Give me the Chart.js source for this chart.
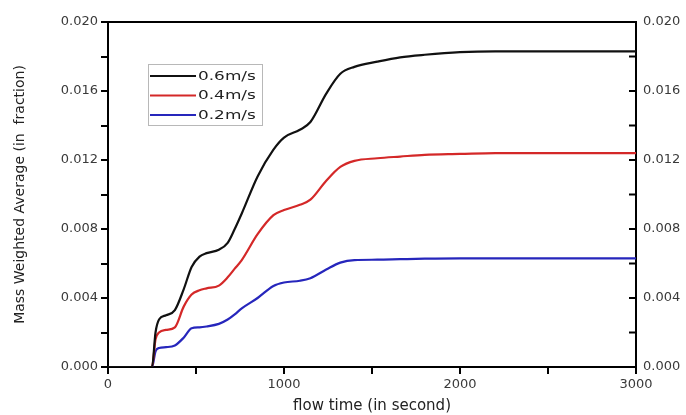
<!DOCTYPE html>
<html>
<head>
<meta charset="utf-8">
<script src="https://cdn.jsdelivr.net/npm/chart.js@4.4.1/dist/chart.umd.min.js"></script>
<style>
  html, body { margin: 0; padding: 0; background: #fff; }
  #wrap { width: 686px; height: 415px; position: relative; }
</style>
</head>
<body>
<div id="wrap"><canvas id="massChart"></canvas></div>
<script>
// data (flow time in s, mass weighted average as fraction)
const flowTime = [0, 250, 270, 290, 330, 380, 430, 475, 520, 560, 630, 680, 720, 760, 850, 940, 1000, 1090, 1150, 1240, 1320, 1400, 1530, 1660, 1800, 2000, 2200, 2500, 3000];
const speed06 = [0, 0, 0.0020, 0.00275, 0.0030, 0.0033, 0.0045, 0.0058, 0.0064, 0.0066, 0.0068, 0.0072, 0.0080, 0.0089, 0.01105, 0.0126, 0.0133, 0.01375, 0.0142, 0.01585, 0.0170, 0.0174, 0.0177, 0.01795, 0.0181, 0.01825, 0.0183, 0.0183, 0.0183];
const speed04 = [0, 0, 0.0016, 0.0020, 0.00215, 0.0023, 0.0035, 0.0042, 0.00445, 0.00456, 0.00472, 0.0052, 0.0057, 0.0062, 0.0077, 0.0088, 0.0091, 0.0094, 0.0097, 0.0108, 0.0116, 0.01195, 0.0121, 0.0122, 0.0123, 0.01235, 0.0124, 0.0124, 0.0124];
const speed02 = [0, 0, 0.0009, 0.0011, 0.00115, 0.00125, 0.0017, 0.00225, 0.0023, 0.00235, 0.0025, 0.00275, 0.00305, 0.0034, 0.0040, 0.0047, 0.0049, 0.0050, 0.00515, 0.00565, 0.00605, 0.0062, 0.00622, 0.00625, 0.00628, 0.0063, 0.0063, 0.0063, 0.0063];
const seriesLabels = ['0.6m/s', '0.4m/s', '0.2m/s'];
const seriesColors = ['#111111', '#d42828', '#2626bc'];
const xTickLabels = [0, 1000, 2000, 3000];
const yTickLabels = [0, 0.004, 0.008, 0.012, 0.016, 0.020];

const FONT = 'DejaVu Sans';

function toPoints(vals) {
  return flowTime.map((t, i) => ({ x: t, y: vals[i] }));
}

function yLabel(v) {
  return yTickLabels.some(t => Math.abs(t - v) < 1e-9) ? v.toFixed(3) : '';
}

// top frame line + inward ticks on the right axis
const framePlugin = {
  id: 'frame',
  afterDraw(chart) {
    const ctx = chart.ctx;
    const a = chart.chartArea;
    const y2 = chart.scales.y2;
    ctx.save();
    ctx.strokeStyle = '#000';
    ctx.lineWidth = 2;
    ctx.beginPath();
    ctx.moveTo(a.left - 1, a.top);
    ctx.lineTo(a.right + 1, a.top);
    y2.ticks.forEach(t => {
      const py = y2.getPixelForValue(t.value);
      ctx.moveTo(a.right - 7, py);
      ctx.lineTo(a.right, py);
    });
    ctx.stroke();
    ctx.restore();
  }
};

// boxed legend inside the plot, text a bit stretched like the original
const legendPlugin = {
  id: 'boxLegend',
  afterDatasetsDraw(chart) {
    const ctx = chart.ctx;
    const a = chart.chartArea;
    const x0 = a.left + 40, y0 = a.top + 42;
    ctx.save();
    ctx.fillStyle = '#fff';
    ctx.fillRect(x0, y0, 114, 61);
    ctx.strokeStyle = '#b8b8b8';
    ctx.lineWidth = 1;
    ctx.strokeRect(x0 + 0.5, y0 + 0.5, 114, 61);
    chart.data.datasets.forEach((ds, i) => {
      const ly = y0 + 12 + i * 19.5;
      ctx.strokeStyle = ds.borderColor;
      ctx.lineWidth = 2.2;
      ctx.beginPath();
      ctx.moveTo(x0 + 2, ly);
      ctx.lineTo(x0 + 48, ly);
      ctx.stroke();
      ctx.save();
      ctx.translate(x0 + 50, ly);
      ctx.scale(1.3, 1);
      ctx.fillStyle = '#222';
      ctx.font = '13px "' + FONT + '"';
      ctx.textBaseline = 'middle';
      ctx.fillText(ds.label, 0, 0.5);
      ctx.restore();
    });
    ctx.restore();
  }
};

const ctx = document.getElementById('massChart').getContext('2d');
const massChart = new Chart(ctx, {
  type: 'line',
  data: {
    datasets: [speed06, speed04, speed02].map((vals, i) => ({
      label: seriesLabels[i],
      data: toPoints(vals),
      borderColor: seriesColors[i],
      borderWidth: 2.2,
      pointRadius: 0,
      fill: false,
      cubicInterpolationMode: 'monotone'
    }))
  },
  options: {
    responsive: true,
    maintainAspectRatio: false,
    devicePixelRatio: 1,
    animation: false,
    layout: { padding: { top: 22, left: 0, right: 0, bottom: 0 } },
    plugins: {
      legend: { display: false },
      tooltip: { enabled: false }
    },
    scales: {
      x: {
        type: 'linear',
        min: 0,
        max: 3000,
        afterFit(scale) { scale.height = 48; },
        ticks: {
          stepSize: 500,
          padding: 3,
          color: '#3a3a3a',
          font: { family: FONT, size: 13 },
          maxRotation: 0,
          autoSkip: false,
          callback: v => xTickLabels.includes(v) ? String(v) : ''
        },
        grid: { drawOnChartArea: false, drawTicks: true, tickLength: 7, color: '#000', lineWidth: 2 },
        border: { color: '#000', width: 2 },
        title: {
          display: true,
          text: 'flow time (in second)',
          color: '#222',
          font: { family: FONT, size: 15 },
          padding: { top: 0, bottom: 0 }
        }
      },
      y: {
        position: 'left',
        min: 0,
        max: 0.02,
        afterFit(scale) { scale.width = 108; },
        ticks: {
          stepSize: 0.002,
          padding: 3,
          color: '#3a3a3a',
          font: { family: FONT, size: 13 },
          autoSkip: false,
          callback: yLabel
        },
        grid: { drawOnChartArea: false, drawTicks: true, tickLength: 7, color: '#000', lineWidth: 2 },
        border: { color: '#000', width: 2 },
        title: {
          display: true,
          text: 'Mass Weighted Average (in  fraction)',
          color: '#222',
          font: { family: FONT, size: 14 },
          padding: { top: 12, bottom: 0 }
        }
      },
      y2: {
        position: 'right',
        min: 0,
        max: 0.02,
        afterFit(scale) { scale.width = 50; },
        ticks: {
          stepSize: 0.002,
          padding: 7,
          color: '#3a3a3a',
          font: { family: FONT, size: 13 },
          autoSkip: false,
          callback: yLabel
        },
        grid: { display: false, drawTicks: false, drawOnChartArea: false },
        border: { display: true, color: '#000', width: 2 }
      }
    }
  },
  plugins: [legendPlugin, framePlugin]
});
</script>
</body>
</html>
